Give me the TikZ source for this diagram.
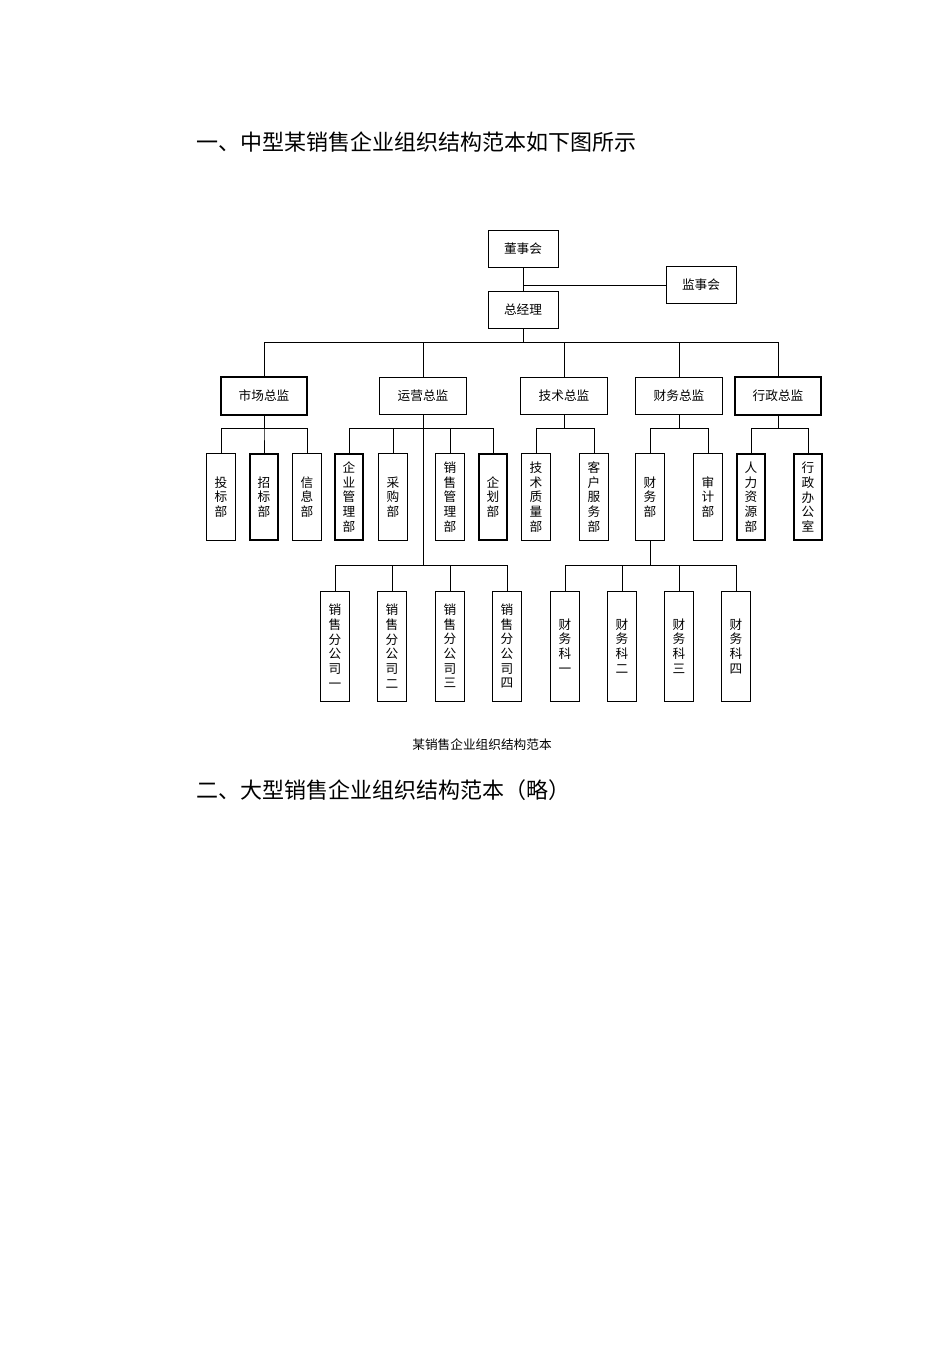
\documentclass[tikz,border=0pt]{standalone}
\usepackage{fontspec}
\setmainfont{Noto Sans CJK SC}
\begin{document}
\begin{tikzpicture}[x=0.75pt,y=-0.75pt,
  box/.style={draw,line width=0.7pt,inner sep=0pt,font=\fontsize{9.5}{11}\selectfont,align=center},
  top/.style={box,minimum width=52.5pt,minimum height=28pt},
  dir/.style={box,minimum width=65pt,minimum height=28pt},
  v3/.style={box,minimum width=21.5pt,minimum height=65pt},
  v4/.style={box,minimum width=21.5pt,minimum height=82.5pt},
  hv/.style={line width=1.3pt},
  ln/.style={line width=0.7pt}]
\useasboundingbox (0,0) rectangle (950,1345);
\node[anchor=west,font=\fontsize{16.5}{18}\selectfont] (t1) at (192,142) {一、中型某销售企业组织结构范本如下图所示};
\node[font=\fontsize{9.5}{11}\selectfont] (cap) at (482,745) {某销售企业组织结构范本};
\node[anchor=west,font=\fontsize{16.5}{18}\selectfont] (t2) at (192,790) {二、大型销售企业组织结构范本（略）};

\node[top] (dsh) at (523,249) {董事会};
\node[top] (jsh) at (701,285) {监事会};
\node[top] (zjl) at (523,310) {总经理};

\node[dir,hv] (sc) at (264,396) {市场总监};
\node[dir] (yy) at (423,396) {运营总监};
\node[dir] (js) at (564,396) {技术总监};
\node[dir] (cw) at (679,396) {财务总监};
\node[dir,hv] (xz) at (778,396) {行政总监};

\node[v3] (a1) at (221,497) {投\\标\\部};
\node[v3,hv] (a2) at (264,497) {招\\标\\部};
\node[v3] (a3) at (307,497) {信\\息\\部};
\node[v3,hv] (b1) at (349,497) {企\\业\\管\\理\\部};
\node[v3] (b2) at (393,497) {采\\购\\部};
\node[v3] (b3) at (450,497) {销\\售\\管\\理\\部};
\node[v3,hv] (b4) at (493,497) {企\\划\\部};
\node[v3] (c1) at (536,497) {技\\术\\质\\量\\部};
\node[v3] (c2) at (594,497) {客\\户\\服\\务\\部};
\node[v3] (d1) at (650,497) {财\\务\\部};
\node[v3] (d2) at (708,497) {审\\计\\部};
\node[v3,hv] (e1) at (751,497) {人\\力\\资\\源\\部};
\node[v3,hv] (e2) at (808,497) {行\\政\\办\\公\\室};

\node[v4] (f1) at (335,646) {销\\售\\分\\公\\司\\一};
\node[v4] (f2) at (392,646) {销\\售\\分\\公\\司\\二};
\node[v4] (f3) at (450,646) {销\\售\\分\\公\\司\\三};
\node[v4] (f4) at (507,646) {销\\售\\分\\公\\司\\四};
\node[v4] (g1) at (565,646) {财\\务\\科\\一};
\node[v4] (g2) at (622,646) {财\\务\\科\\二};
\node[v4] (g3) at (679,646) {财\\务\\科\\三};
\node[v4] (g4) at (736,646) {财\\务\\科\\四};

\coordinate (bus1) at (0,342);
\coordinate (bus2) at (0,428);
\coordinate (bus3) at (0,565);

\draw[ln] (dsh) -- (zjl);
\draw[ln] (jsh.west) -- (jsh.west -| dsh.south);
\foreach \c in {sc,yy,js,cw,xz} \draw[ln] (zjl.south) -- (zjl.south |- bus1) -| (\c.north);
\foreach \c in {a1,a2,a3} \draw[ln] (sc.south) -- (sc.south |- bus2) -| (\c.north);
\foreach \c in {b1,b2,b3,b4} \draw[ln] (yy.south) -- (yy.south |- bus2) -| (\c.north);
\foreach \c in {c1,c2} \draw[ln] (js.south) -- (js.south |- bus2) -| (\c.north);
\foreach \c in {d1,d2} \draw[ln] (cw.south) -- (cw.south |- bus2) -| (\c.north);
\foreach \c in {e1,e2} \draw[ln] (xz.south) -- (xz.south |- bus2) -| (\c.north);
\foreach \c in {f1,f2,f3,f4} \draw[ln] (yy.south) -- (yy.south |- bus3) -| (\c.north);
\foreach \c in {g1,g2,g3,g4} \draw[ln] (d1.south) -- (d1.south |- bus3) -| (\c.north);
\end{tikzpicture}
\end{document}
